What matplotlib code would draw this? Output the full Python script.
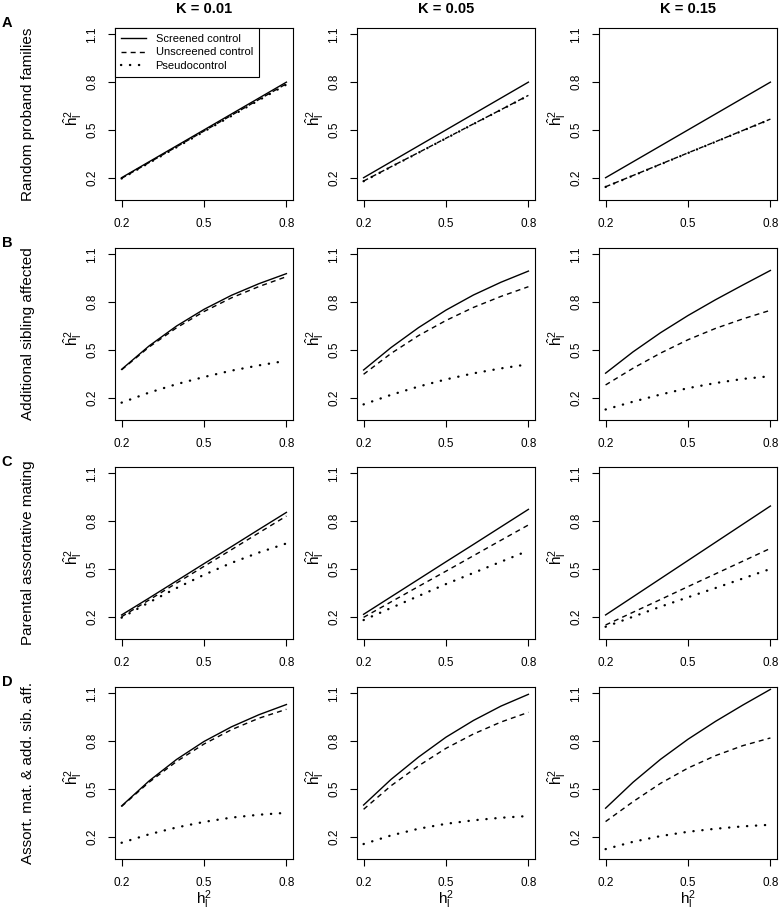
import matplotlib
matplotlib.use("Agg")
import matplotlib.pyplot as plt

plt.rcParams['font.family'] = ['Liberation Sans', 'DejaVu Sans']
plt.rcParams['mathtext.fontset'] = 'custom'
plt.rcParams['mathtext.rm'] = 'Liberation Sans'
plt.rcParams['mathtext.it'] = 'Liberation Sans'

# true liability-scale heritability (x axis)
h2 = [0.2, 0.3, 0.4, 0.5, 0.6, 0.7, 0.8]

k_labels = ['K = 0.01', 'K = 0.05', 'K = 0.15']
row_letters = ['A', 'B', 'C', 'D']
row_titles = ['Random proband families', 'Additional sibling affected',
              'Parental assortative mating', 'Assort. mat. & add. sib. aff.']
series_names = ['Screened control', 'Unscreened control', 'Pseudocontrol']

# estimated heritability, one list per K (0.01, 0.05, 0.15)
# A: random proband families
screened_A = [[0.2, 0.3, 0.4, 0.5, 0.6, 0.7, 0.8],
              [0.2, 0.3, 0.4, 0.5, 0.6, 0.7, 0.8],
              [0.2, 0.3, 0.4, 0.5, 0.6, 0.7, 0.8]]
unscreened_A = [[0.196, 0.295, 0.394, 0.493, 0.592, 0.691, 0.79],
                [0.179, 0.269, 0.358, 0.448, 0.538, 0.627, 0.717],
                [0.143, 0.214, 0.285, 0.356, 0.426, 0.497, 0.568]]
pseudo_A = [[0.195, 0.293, 0.391, 0.49, 0.588, 0.687, 0.785],
            [0.178, 0.268, 0.357, 0.447, 0.537, 0.626, 0.716],
            [0.142, 0.213, 0.284, 0.355, 0.425, 0.496, 0.567]]

# B: additional sibling affected
screened_B = [[0.378, 0.525, 0.65, 0.755, 0.843, 0.916, 0.979],
              [0.374, 0.515, 0.64, 0.75, 0.845, 0.925, 0.995],
              [0.354, 0.488, 0.608, 0.716, 0.815, 0.908, 0.999]]
unscreened_B = [[0.375, 0.518, 0.639, 0.741, 0.827, 0.898, 0.96],
                [0.347, 0.478, 0.59, 0.685, 0.767, 0.836, 0.897],
                [0.28, 0.385, 0.48, 0.564, 0.635, 0.695, 0.749]]
pseudo_B = [[0.169, 0.232, 0.285, 0.33, 0.37, 0.403, 0.432],
            [0.158, 0.218, 0.27, 0.315, 0.353, 0.384, 0.41],
            [0.126, 0.175, 0.22, 0.26, 0.292, 0.318, 0.335]]

# C: parental assortative mating
screened_C = [[0.211, 0.317, 0.425, 0.533, 0.64, 0.748, 0.855],
              [0.215, 0.325, 0.435, 0.545, 0.654, 0.764, 0.874],
              [0.211, 0.325, 0.439, 0.553, 0.667, 0.781, 0.895]]
unscreened_C = [[0.2, 0.305, 0.411, 0.516, 0.621, 0.727, 0.832],
                [0.196, 0.293, 0.39, 0.486, 0.583, 0.68, 0.776],
                [0.148, 0.228, 0.308, 0.389, 0.469, 0.549, 0.629]]
pseudo_C = [[0.194, 0.29, 0.38, 0.463, 0.538, 0.603, 0.66],
            [0.179, 0.255, 0.33, 0.405, 0.475, 0.545, 0.615],
            [0.137, 0.2, 0.263, 0.322, 0.38, 0.44, 0.5]]

# D: assortative mating and additional sibling affected
screened_D = [[0.393, 0.55, 0.685, 0.798, 0.89, 0.966, 1.03],
              [0.399, 0.56, 0.7, 0.825, 0.93, 1.02, 1.094],
              [0.379, 0.542, 0.686, 0.812, 0.924, 1.027, 1.125]]
unscreened_D = [[0.39, 0.542, 0.672, 0.782, 0.872, 0.944, 1.0],
                [0.372, 0.52, 0.645, 0.755, 0.845, 0.92, 0.981],
                [0.295, 0.42, 0.535, 0.631, 0.709, 0.772, 0.82]]
pseudo_D = [[0.162, 0.215, 0.258, 0.293, 0.32, 0.338, 0.35],
            [0.154, 0.208, 0.25, 0.281, 0.303, 0.319, 0.33],
            [0.122, 0.168, 0.204, 0.231, 0.25, 0.265, 0.275]]

rows = [(screened_A, unscreened_A, pseudo_A),
        (screened_B, unscreened_B, pseudo_B),
        (screened_C, unscreened_C, pseudo_C),
        (screened_D, unscreened_D, pseudo_D)]

styles = [dict(linestyle='-', linewidth=1.0),
          dict(linestyle=(0, (3.6, 3.0)), linewidth=1.0),
          dict(linestyle=(0, (0.1, 3.7)), linewidth=1.7, dash_capstyle='round')]

W, H = 779, 916
fig = plt.figure(figsize=(W / 100, H / 100), dpi=100)

col_left = [115, 357, 599]
row_top = [28, 248, 467, 687]
pw, ph = 178, 172


def fx(px):
    return px / W


def fy(py):
    return 1 - py / H


for r in range(4):
    for c in range(3):
        ax = fig.add_axes([fx(col_left[c]), fy(row_top[r] + ph), pw / W, ph / H])
        for vals, name, st in zip(rows[r], series_names, styles):
            ax.plot(h2, vals[c], color='black', label=name, **st)
        ax.set_xlim(0.176, 0.824)
        ax.set_ylim(0.06, 1.14)
        ax.set_xticks([0.2, 0.5, 0.8])
        ax.set_xticklabels(['0.2', '0.5', '0.8'])
        ax.set_yticks([0.2, 0.5, 0.8, 1.1])
        ax.set_yticklabels(['0.2', '0.5', '0.8', '1.1'], rotation=90, va='center')
        ax.tick_params(axis='both', direction='out', length=5, width=0.8,
                       labelsize=8.5, color='black')
        ax.tick_params(axis='x', pad=8)
        ax.tick_params(axis='y', pad=7)
        for s in ax.spines.values():
            s.set_linewidth(0.8)
        fig.text(fx(col_left[c] - 42), fy(row_top[r] + ph / 2 + 4),
                 r'$\hat{\mathrm{h}}_\mathrm{l}^2$', rotation=90,
                 ha='center', va='center', fontsize=11)
        if r == 0 and c == 0:
            ax.legend(loc='upper left', borderaxespad=0, fancybox=False,
                      edgecolor='black', framealpha=1, fontsize=8,
                      handlelength=2.2, handletextpad=0.9, borderpad=0.55,
                      labelspacing=0.3)
            ax.get_legend().get_frame().set_linewidth(0.8)
        if r == 3:
            fig.text(fx(col_left[c] + pw / 2), fy(900), r'$\mathrm{h}_\mathrm{l}^2$',
                     ha='center', va='center', fontsize=11)
    fig.text(fx(28), fy(row_top[r] + ph / 2), row_titles[r], rotation=90,
             ha='center', va='center', fontsize=11)
    fig.text(fx(7), fy(row_top[r] - 5), row_letters[r], ha='center', va='center',
             fontsize=10.5, fontweight='bold')

for c in range(3):
    fig.text(fx(col_left[c] + pw / 2), fy(9), k_labels[c], ha='center', va='center',
             fontsize=10.5, fontweight='bold')

fig.savefig('out.png', dpi=100)
